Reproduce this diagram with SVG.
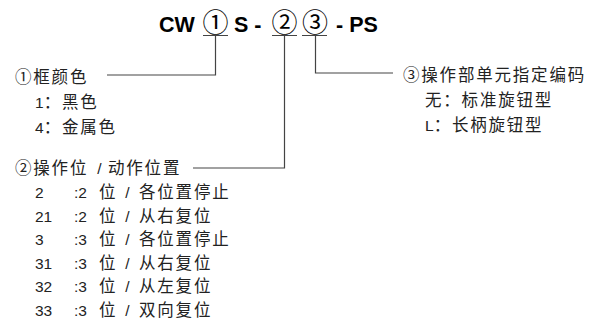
<svg xmlns="http://www.w3.org/2000/svg" width="597" height="320" viewBox="0 0 597 320">
<style>
.bg{fill:#fff}
.title{font-family:"Liberation Sans","Noto Sans CJK SC",sans-serif;font-size:21.5px;font-weight:bold;fill:#000}
.circ{font-family:"Noto Sans CJK SC",sans-serif;font-weight:normal;font-size:26px}
.t{font-family:"Liberation Sans","Noto Sans CJK SC",sans-serif;font-size:15.5px;fill:#222}
.c{font-family:"Noto Sans CJK SC",sans-serif;font-size:16.5px;letter-spacing:1.8px}
.ln{fill:none;stroke:#444;stroke-width:1.2}
</style>
<rect class="bg" width="597" height="320"/>
<g id="title">
<text class="title" y="32"><tspan x="159">CW</tspan><tspan class="circ" x="215.5" y="31.5" text-anchor="middle">①</tspan><tspan x="228" y="32"> S -</tspan><tspan class="circ" x="284.5" y="31.5" text-anchor="middle">②</tspan><tspan class="circ" x="315" y="31.5" text-anchor="middle">③</tspan><tspan x="336" y="32">- PS</tspan></text>
</g>
<g id="connectors">
<path class="ln" d="M203 35.5H228M215.5 35.5V75H107"/>
<path class="ln" d="M272 35.5H297M284.5 35.5V168H193"/>
<path class="ln" d="M302 35.5H327M315.5 35.5V73H393"/>
</g>
<g id="node-color">
<text class="t" y="83"><tspan x="15" class="c">①框颜色</tspan></text>
<text class="t" y="108"><tspan x="35">1</tspan><tspan class="c">：黑色</tspan></text>
<text class="t" y="133"><tspan x="35">4</tspan><tspan class="c">：金属色</tspan></text>
</g>
<g id="node-position">
<text class="t" y="174"><tspan x="15" class="c">②操作位</tspan><tspan x="93"> / </tspan><tspan x="108" class="c">动作位置</tspan></text>
<text class="t" y="198"><tspan x="35">2</tspan><tspan x="74">:2 </tspan><tspan x="99" class="c">位</tspan><tspan x="121"> / </tspan><tspan x="139" class="c">各位置停止</tspan></text>
<text class="t" y="221.5"><tspan x="35">21</tspan><tspan x="74">:2 </tspan><tspan x="99" class="c">位</tspan><tspan x="121"> / </tspan><tspan x="139" class="c">从右复位</tspan></text>
<text class="t" y="245"><tspan x="35">3</tspan><tspan x="74">:3 </tspan><tspan x="99" class="c">位</tspan><tspan x="121"> / </tspan><tspan x="139" class="c">各位置停止</tspan></text>
<text class="t" y="268.5"><tspan x="35">31</tspan><tspan x="74">:3 </tspan><tspan x="99" class="c">位</tspan><tspan x="121"> / </tspan><tspan x="139" class="c">从右复位</tspan></text>
<text class="t" y="292"><tspan x="35">32</tspan><tspan x="74">:3 </tspan><tspan x="99" class="c">位</tspan><tspan x="121"> / </tspan><tspan x="139" class="c">从左复位</tspan></text>
<text class="t" y="315.5"><tspan x="35">33</tspan><tspan x="74">:3 </tspan><tspan x="99" class="c">位</tspan><tspan x="121"> / </tspan><tspan x="139" class="c">双向复位</tspan></text>
</g>
<g id="node-unit">
<text class="t" y="81"><tspan x="403" class="c">③操作部单元指定编码</tspan></text>
<text class="t" y="106"><tspan x="425" class="c">无：标准旋钮型</tspan></text>
<text class="t" y="131"><tspan x="425">L</tspan><tspan class="c">：长柄旋钮型</tspan></text>
</g>
</svg>
